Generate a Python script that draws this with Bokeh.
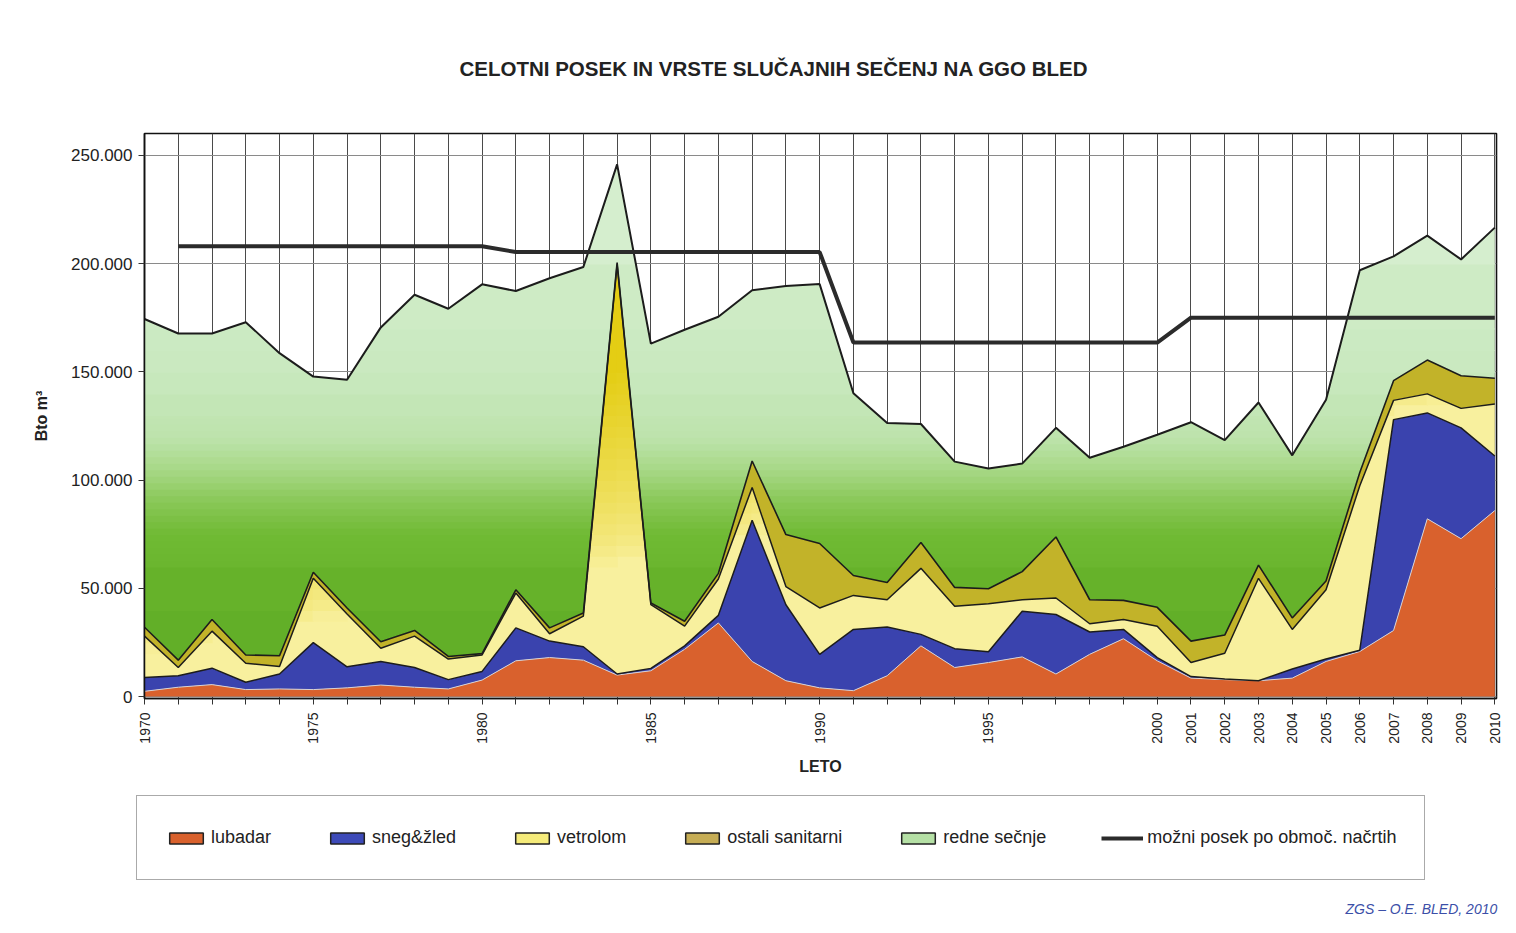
import numpy as np
from bokeh.plotting import figure
from bokeh.layouts import column
from bokeh.models import FixedTicker, Legend, LegendItem, Label, Range1d, Title
from bokeh.embed import file_html
from bokeh.resources import INLINE

# ---------------- data (m3) ----------------
years = list(range(1970, 2011))
lubadar = [2400, 4300, 5500, 3200, 3500, 3200, 4000, 5300, 4300, 3500, 7600,
           16500, 18000, 16800, 9900, 11900, 21800, 34000, 16200, 7300, 4000,
           2700, 9600, 23400, 13400, 15700, 18300, 10400, 19500, 26700, 16500,
           8500, 7800, 7300, 8500, 16200, 20800, 30500, 82100, 72900, 85900]
sneg_zled = [6400, 5300, 7600, 3400, 6900, 21700, 9700, 10900, 9100, 4300, 4000,
             15200, 7600, 6200, 500, 1100, 1600, 3500, 65200, 35100, 15500,
             28300, 22500, 5300, 8700, 5000, 21100, 27500, 10300, 4300, 1500,
             700, 300, 0, 4200, 1100, 600, 97400, 48900, 51200, 25200]
vetrolom = [19100, 3800, 17100, 8800, 3500, 29700, 24400, 6100, 14500, 9500, 7600,
            16100, 3400, 14100, 189100, 29400, 9100, 16800, 15200, 8400, 21400,
            15700, 12600, 30500, 19600, 22200, 5300, 7600, 3800, 4600, 14500,
            6500, 11900, 47300, 18300, 32000, 76000, 8900, 8800, 9000, 24000]
ostali_sanitarni = [4100, 3400, 5400, 3800, 4900, 2800, 2800, 3000, 2600, 1200, 600,
                    1500, 2700, 1500, 1000, 800, 2300, 2600, 12200, 24000, 29800,
                    9200, 8000, 11900, 8700, 6900, 13000, 28200, 11100, 8800, 8700,
                    9900, 8400, 6100, 5300, 4100, 6100, 9100, 15600, 15100, 11900]
redne_secnje = [142400, 150900, 132100, 153700, 139800, 90400, 105400, 145200, 155100, 160600, 170600,
                138000, 161500, 159800, 45300, 119800, 134600, 118500, 78900, 114800, 119800,
                84200, 73700, 54800, 58100, 55500, 49900, 50400, 65600, 71000, 79700,
                101100, 90000, 75100, 75100, 83700, 93400, 57400, 57500, 53700, 69600]
mozni_posek = [float("nan"),
               208000, 208000, 208000, 208000, 208000, 208000, 208000, 208000, 208000, 208000,
               205300, 205300, 205300, 205300, 205300, 205300, 205300, 205300, 205300, 205300,
               163500, 163500, 163500, 163500, 163500, 163500, 163500, 163500, 163500, 163500,
               175000, 175000, 175000, 175000, 175000, 175000, 175000, 175000, 175000, 175000]
x_tick_labels = ["1970", "1975", "1980", "1985", "1990", "1995", "2000", "2001", "2002",
                 "2003", "2004", "2005", "2006", "2007", "2008", "2009", "2010"]
y_ticks = [0, 50000, 100000, 150000, 200000, 250000]
series_names = ["lubadar", "sneg&žled", "vetrolom", "ostali sanitarni", "redne sečnje",
                "možni posek po območ. načrtih"]
title_text = "CELOTNI POSEK IN VRSTE SLUČAJNIH SEČENJ NA GGO BLED"
note_text = "ZGS – O.E. BLED, 2010"

# ---------------- styling ----------------
C_LUB = "#d9612d"
C_SNEG = "#3a43ae"
C_VET = "#f8f09e"
C_VET_SAT = (228, 205, 20)
C_VET_PALE = (248, 240, 158)
C_OST = "#c2b329"
C_LINE = "#1c1c1c"
FONT = "Liberation Sans"
W = 1506

c1 = np.array(lubadar, float)
c2 = c1 + np.array(sneg_zled, float)
c3 = c2 + np.array(vetrolom, float)
c4 = c3 + np.array(ostali_sanitarni, float)
c5 = c4 + np.array(redne_secnje, float)

p = figure(width=W, height=780, x_range=Range1d(1970, 2010.05), y_range=Range1d(-916, 260073),
           output_backend="svg", toolbar_location=None,
           min_border_left=144, min_border_right=10, min_border_top=128, min_border_bottom=82,
           background_fill_color="white", border_fill_color="white")
p.title = None
p.add_layout(Title(text=title_text, align="left", offset=315, text_font=FONT, text_font_size="20.5px",
                   text_font_style="bold", text_color="#222222", standoff=108), "above")

# grids
p.xgrid.ticker = FixedTicker(ticks=years)
p.ygrid.ticker = FixedTicker(ticks=y_ticks)
p.xgrid.grid_line_color = "#4a4a4a"
p.ygrid.grid_line_color = "#8a8a8a"
p.xgrid.grid_line_width = 1
p.ygrid.grid_line_width = 1
p.outline_line_color = "#111111"
p.outline_line_width = 1.6

# axes
p.xaxis.ticker = FixedTicker(ticks=years)
p.xaxis.major_label_overrides = {y: (str(y) if str(y) in x_tick_labels else "") for y in years}
p.xaxis.major_label_orientation = np.pi / 2
p.xaxis.major_label_text_font_size = "14px"
p.xaxis.major_label_text_font = FONT
p.xaxis.major_label_standoff = 8
p.xaxis.axis_label = "LETO"
p.xaxis.axis_label_text_font = FONT
p.xaxis.axis_label_text_font_size = "16px"
p.xaxis.axis_label_text_font_style = "bold"
p.xaxis.axis_label_standoff = 11
p.yaxis.ticker = FixedTicker(ticks=y_ticks)
p.yaxis.major_label_overrides = {v: ("{:,}".format(v).replace(",", ".")) for v in y_ticks}
p.yaxis.major_label_text_font_size = "17px"
p.yaxis.major_label_text_font = FONT
p.yaxis.major_label_standoff = 6
p.yaxis.axis_label = "Bto m³"
p.yaxis.axis_label_text_font = FONT
p.yaxis.axis_label_text_font_size = "16px"
p.yaxis.axis_label_text_font_style = "bold"
p.yaxis.axis_label_standoff = 18
for ax in (p.xaxis, p.yaxis):
    ax.axis_line_color = "#111111"
    ax.axis_line_width = 1.5
    ax.major_tick_line_color = "#333333"
    ax.major_tick_in = 0
    ax.major_tick_out = 6
    ax.minor_tick_line_color = None
    ax.major_label_text_color = "#222222"
    ax.axis_label_text_color = "#222222"

# dense x used only to render vertical colour gradients inside the areas
xd = np.round(np.arange(1970, 2010.0001, 0.02), 4)
def dense(arr):
    return np.interp(xd, years, arr)

# lubadar, sneg
p.varea(x=years, y1=np.zeros(len(years)), y2=c1, fill_color=C_LUB)
p.varea(x=years, y1=c1, y2=c2, fill_color=C_SNEG)

# vetrolom: pale base + saturated part toward upper-left
lo, hi = dense(c2), dense(c3)
p.varea(x=xd, y1=lo, y2=hi, fill_color=C_VET)
def vet_t(x, y):
    t = (y - 20000) / 90000.0 - (x - 1970) / 30.0
    return float(np.clip(t, 0, 1)) ** 0.7
ov = 450
for k in range(40):
    m = (xd >= 1970 + k - 0.03) & (xd <= 1971 + k + 0.03)
    for b0 in range(0, 210000, 5000):
        t = vet_t(1970 + k + 0.5, b0 + 2500)
        if t < 0.03:
            continue
        y1 = np.clip(lo[m], b0 - ov, b0 + 5000)
        y2 = np.clip(hi[m], b0 - ov, b0 + 5000)
        if np.all(y2 - y1 <= 0):
            continue
        col = tuple(int(round(a + (b - a) * t)) for a, b in zip(C_VET_PALE, C_VET_SAT))
        p.varea(x=xd[m], y1=y1, y2=y2, fill_color="#%02x%02x%02x" % col)

# ostali sanitarni
p.varea(x=years, y1=c3, y2=c4, fill_color=C_OST)

# redne sečnje: vertical green gradient
g_stops = [(0, (92, 170, 36)), (50000, (102, 178, 42)), (75000, (112, 186, 52)),
           (90000, (136, 199, 86)), (105000, (167, 216, 134)), (120000, (189, 227, 172)),
           (150000, (201, 233, 191)), (260000, (216, 240, 210))]
def green_at(v):
    vs = [s[0] for s in g_stops]
    rgb = [int(round(np.interp(v, vs, [s[1][i] for s in g_stops]))) for i in range(3)]
    return "#%02x%02x%02x" % tuple(rgb)
g_edges = list(range(0, 60000, 20000)) + list(range(60000, 130000, 3000)) + \
          list(range(130000, 170000, 10000)) + [170000, 200000, 270000]
lo, hi = dense(c4), dense(c5)
for b0, b1 in zip(g_edges[:-1], g_edges[1:]):
    y1 = np.clip(lo, b0 - ov, b1)
    y2 = np.clip(hi, b0 - ov, b1)
    if np.all(y2 - y1 <= 0):
        continue
    p.varea(x=xd, y1=y1, y2=y2, fill_color=green_at((b0 + b1) / 2))

# boundary lines
p.line(years, c1, line_color="#d8d2d2", line_width=1)
p.line(years, c2, line_color=C_LINE, line_width=1.5)
p.line(years, c3, line_color=C_LINE, line_width=1.5)
p.line(years, c4, line_color=C_LINE, line_width=1.6)
p.line(years, c5, line_color=C_LINE, line_width=2)
p.line(years, mozni_posek, line_color="#2b2b2b", line_width=4)

# ---------------- legend strip (second figure below the chart) ----------------
p2 = figure(width=W, height=137, x_range=Range1d(0, 1), y_range=Range1d(0, 1),
            output_backend="svg", toolbar_location=None, x_axis_location=None, y_axis_location=None,
            min_border=0, min_border_left=0, min_border_right=0, min_border_top=0, min_border_bottom=0,
            background_fill_color="white", border_fill_color="white", outline_line_color=None)
p2.grid.visible = False
legend_x = 136
try:
    p2.frame_align = False
except Exception:
    legend_x = -8

# legend swatches: proxy glyphs placed outside the strip's visible range
def proxy(fill):
    return p2.quad(left=[5], right=[6], top=[6], bottom=[5], fill_color=fill,
                   line_color="#222222", line_width=1.5)
proxies = [proxy(C_LUB), proxy("#3d4ab8"), proxy("#f5eb7a"), proxy("#c6ad55"), proxy("#b5e0a5")]
r_line = p2.line(x=[5, 6], y=[5, 5], line_color="#2b2b2b", line_width=4)
items = [LegendItem(label=n, renderers=[r]) for n, r in zip(series_names[:5], proxies)]
items.append(LegendItem(label=series_names[5], renderers=[r_line]))
legend = Legend(items=items, orientation="horizontal", location=(legend_x, 37),
                spacing=55, glyph_width=42, glyph_height=14, label_standoff=4,
                padding=28, margin=0, label_height=27,
                label_text_font=FONT, label_text_font_size="18px", label_text_color="#222222",
                border_line_color="#555555", border_line_width=1.5,
                background_fill_color="white", background_fill_alpha=1)
p2.add_layout(legend)
p2.add_layout(Label(x=legend_x + 1209, y=1, x_units="screen", y_units="screen", text=note_text,
                    text_font=FONT, text_font_style="italic", text_font_size="14px",
                    text_color="#3b4fa8"))

layout = column(p, p2, spacing=0)
open("out.html", "w").write(file_html(layout, INLINE))
